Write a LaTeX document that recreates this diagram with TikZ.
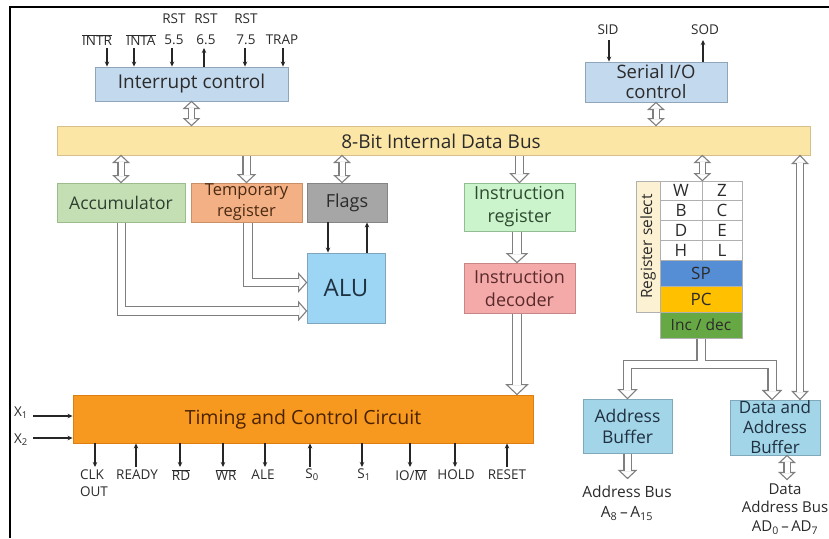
\documentclass[tikz,border=0pt]{standalone}
\usepackage{fontspec}
\setmainfont{Open Sans}
\usetikzlibrary{arrows.meta,calc}

\definecolor{bgray}{HTML}{7F7F7F}
\definecolor{txt}{HTML}{2B2B2B}
\definecolor{icfill}{HTML}{C3D9EE}
\definecolor{icdraw}{HTML}{8FA5BA}
\definecolor{busfill}{HTML}{FCE6A6}
\definecolor{busdraw}{HTML}{D6BF8A}
\definecolor{accfill}{HTML}{C5DFB5}
\definecolor{accdraw}{HTML}{9DBB8C}
\definecolor{acctext}{HTML}{2F4030}
\definecolor{tmpfill}{HTML}{F3B084}
\definecolor{tmpdraw}{HTML}{C98F66}
\definecolor{tmptext}{HTML}{4A2A12}
\definecolor{flagfill}{HTML}{A6A6A6}
\definecolor{flagdraw}{HTML}{858585}
\definecolor{alufill}{HTML}{9DD6F5}
\definecolor{aludraw}{HTML}{7FA6BC}
\definecolor{alutext}{HTML}{1F3242}
\definecolor{irfill}{HTML}{CCF4CC}
\definecolor{irdraw}{HTML}{92BD92}
\definecolor{irtext}{HTML}{2E4A30}
\definecolor{idfill}{HTML}{F5AAAA}
\definecolor{iddraw}{HTML}{C98686}
\definecolor{idtext}{HTML}{5A2A2A}
\definecolor{rsfill}{HTML}{FCF1D2}
\definecolor{celldraw}{HTML}{B0B0B0}
\definecolor{spfill}{HTML}{558ED5}
\definecolor{pcfill}{HTML}{FFC000}
\definecolor{incfill}{HTML}{66A844}
\definecolor{buffill}{HTML}{A2D5E8}
\definecolor{bufdraw}{HTML}{7FA9BA}
\definecolor{buftext}{HTML}{1F3040}
\definecolor{tccfill}{HTML}{F7981F}
\definecolor{tccdraw}{HTML}{DE7E10}
\definecolor{tcctext}{HTML}{4A2200}

% open (hollow) arrow head: tip point, direction, half width, length
\newcommand\openhead[4]{%
  \draw[headsty,shift={(#1)},rotate=#2] (0,0) -- (-#4,#3) -- (-#4,-#3) -- cycle;}
% two-headed hollow bus arrow between #1 (upper end) and #2 (lower end)
\newcommand\busboth[5]{%
  \openhead{#1}{90}{#4}{#5}\openhead{#2}{-90}{#4}{#5}%
  \pgfmathsetmacro\bshort{#5-0.8}%
  \draw[shaftsty=#3pt,shorten <=\bshort pt,shorten >=\bshort pt] (#1) -- (#2);}
% one-headed hollow bus arrow from #1 down to #2
\newcommand\busdown[5]{%
  \openhead{#2}{-90}{#4}{#5}%
  \pgfmathsetmacro\bshort{#5-0.8}%
  \draw[shaftsty=#3pt,shorten <=0.4pt,shorten >=\bshort pt] (#1) -- (#2);}

\begin{document}
\begin{tikzpicture}[x=1pt,y=-1pt,
  blk/.style={draw=#1,line width=0.9pt,inner sep=1pt,align=center,text=txt,
    font=\fontsize{18}{20}\selectfont},
  cell/.style={draw=celldraw,line width=0.7pt,fill=white,inner sep=0pt,text=txt,
    font=\fontsize{17}{18}\selectfont},
  sigl/.style={inner sep=0pt,align=center,text=txt,font=\fontsize{13.5}{21}\selectfont},
  busl/.style={inner sep=0pt,align=center,text=txt,font=\fontsize{15.5}{20}\selectfont},
  sig/.style={draw=black!85,line width=1.1pt,-{Stealth[length=5pt,width=4.5pt]}},
  headsty/.style={draw=bgray,fill=white,line width=1.1pt,line join=miter},
  shaftsty/.style={draw=bgray,line width=1.1pt,double=white,double distance=#1}]

\useasboundingbox (0,0) rectangle (829,538);
\fill[white] (0,0) rectangle (829,538);
% frame
\draw[line width=2.5pt] (10,538) -- (10,7) -- (829,7);

% ---------- blocks ----------
\node[blk=icdraw,fill=icfill,minimum width=193pt,minimum height=34pt,font=\fontsize{19}{20}\selectfont] (intc) at (191.5,84) {Interrupt control};
\node[blk=icdraw,fill=icfill,minimum width=142pt,minimum height=40pt,font=\fontsize{18.5}{20}\selectfont] (sio) at (656,82) {Serial I/O\\control};
\node[blk=busdraw,fill=busfill,minimum width=753pt,minimum height=29pt] (bus) at (433.5,140.5) {};
\node[inner sep=0pt,text=txt,font=\fontsize{19}{20}\selectfont] (buslbl) at (441,141) {8-Bit Internal Data Bus};

\node[blk=accdraw,fill=accfill,text=acctext,minimum width=128pt,minimum height=39pt,font=\fontsize{17.5}{20}\selectfont] (acc) at (121,202.5) {Accumulator};
\node[blk=tmpdraw,fill=tmpfill,text=tmptext,minimum width=111pt,minimum height=39pt,font=\fontsize{16.5}{21}\selectfont] (tmp) at (246.5,202.5) {Temporary\\register};
\node[blk=flagdraw,fill=flagfill,minimum width=80pt,minimum height=39pt] (flags) at (347,202.5) {Flags};
\node[blk=aludraw,fill=alufill,text=alutext,minimum width=78pt,minimum height=70pt,font=\fontsize{24}{26}\selectfont] (alu) at (346,288) {ALU};

\node[blk=irdraw,fill=irfill,text=irtext,minimum width=111pt,minimum height=48pt,font=\fontsize{18}{23}\selectfont] (ir) at (519.5,207) {Instruction\\register};
\node[blk=iddraw,fill=idfill,text=idtext,minimum width=111pt,minimum height=50pt,font=\fontsize{18}{23}\selectfont] (idec) at (519.5,288) {Instruction\\decoder};

% register array
\node[draw=celldraw,line width=0.7pt,fill=rsfill,inner sep=0pt,rotate=90,minimum width=131pt,minimum height=24pt,text=txt,font=\fontsize{15.5}{16}\selectfont] (rsel) at (648,246.5) {Register select};
\node[cell,minimum width=42pt,minimum height=19.75pt] (rW) at (681,190.9) {W};
\node[cell,minimum width=40pt,minimum height=19.75pt] (rZ) at (722,190.9) {Z};
\node[cell,minimum width=42pt,minimum height=19.75pt] (rB) at (681,210.6) {B};
\node[cell,minimum width=40pt,minimum height=19.75pt] (rC) at (722,210.6) {C};
\node[cell,minimum width=42pt,minimum height=19.75pt] (rD) at (681,230.4) {D};
\node[cell,minimum width=40pt,minimum height=19.75pt] (rE) at (722,230.4) {E};
\node[cell,minimum width=42pt,minimum height=19.75pt] (rH) at (681,250.1) {H};
\node[cell,minimum width=40pt,minimum height=19.75pt] (rL) at (722,250.1) {L};
\node[cell,fill=spfill,minimum width=82pt,minimum height=26pt] (sp) at (701,273) {SP};
\node[cell,fill=pcfill,minimum width=82pt,minimum height=26pt] (pc) at (701,299) {PC};
\node[cell,fill=incfill,minimum width=82pt,minimum height=26pt,font=\fontsize{15.5}{16}\selectfont] (inc) at (701,325) {Inc / dec};

\node[blk=bufdraw,fill=buffill,text=buftext,minimum width=89pt,minimum height=54pt,font=\fontsize{17.5}{21}\selectfont] (abuf) at (627.5,426) {Address\\Buffer};
\node[blk=bufdraw,fill=buffill,text=buftext,minimum width=90pt,minimum height=55pt,font=\fontsize{17}{20}\selectfont] (dabuf) at (775,427.5) {Data and\\Address\\Buffer};

\node[blk=tccdraw,fill=tccfill,text=tcctext,minimum width=460pt,minimum height=48pt,font=\fontsize{19.5}{20}\selectfont] (tcc) at (303,419) {Timing and Control Circuit};

% ---------- interrupt signals ----------
\node[sigl] (lintr) at (97,40) {$\overline{\hbox{INTR}}$};
\node[sigl] (linta) at (141,40) {$\overline{\hbox{INTA}}$};
\node[sigl] (lr55) at (174,29) {RST\\5.5};
\node[sigl] (lr65) at (206,29) {RST\\6.5};
\node[sigl] (lr75) at (246,29) {RST\\7.5};
\node[sigl] (ltrap) at (282,40) {TRAP};
\coordinate (aintr) at (107,48);
\coordinate (ainta) at (134,48);
\coordinate (a55) at (172,48);
\coordinate (a65) at (204,48);
\coordinate (a75) at (245,48);
\coordinate (atrap) at (283,48);
\draw[sig] (aintr) -- (aintr |- intc.north);
\draw[sig] (ainta) -- (ainta |- intc.north);
\draw[sig] (a55) -- (a55 |- intc.north);
\draw[sig] (a65 |- intc.north) -- (a65);
\draw[sig] (a75) -- (a75 |- intc.north);
\draw[sig] (atrap) -- (atrap |- intc.north);

% ---------- serial signals ----------
\node[sigl] (lsid) at (608,30) {SID};
\node[sigl] (lsod) at (705,30) {SOD};
\coordinate (asid) at (609,40);
\coordinate (asod) at (703,40);
\draw[sig] (asid) -- (asid |- sio.north);
\draw[sig] (asod |- sio.north) -- (asod);

% ---------- clock inputs ----------
\node[sigl] (lx1) at (21,413) {X\textsubscript{1}};
\node[sigl] (lx2) at (21,440) {X\textsubscript{2}};
\coordinate (ax1) at (33,416);
\coordinate (ax2) at (33,438);
\draw[sig] (ax1) -- (ax1 -| tcc.west);
\draw[sig] (ax2) -- (ax2 -| tcc.west);

% ---------- control signals ----------
\node[sigl,align=left,font=\fontsize{13.5}{17}\selectfont] (lclk) at (94,483.5) {CLK\\OUT};
\node[sigl] (lready) at (137,475) {READY};
\node[sigl] (lrd) at (181,475) {$\overline{\hbox{RD}}$};
\node[sigl] (lwr) at (226,475) {$\overline{\hbox{WR}}$};
\node[sigl] (lale) at (263,475) {ALE};
\node[sigl] (ls0) at (312,475) {S\textsubscript{0}};
\node[sigl] (ls1) at (364,475) {S\textsubscript{1}};
\node[sigl] (liom) at (411,475) {IO/$\overline{\hbox{M}}$};
\node[sigl] (lhold) at (456,475) {HOLD};
\node[sigl] (lreset) at (507,475) {RESET};
\coordinate (aclk) at (95,467);
\coordinate (aready) at (136,467);
\coordinate (ard) at (180,467);
\coordinate (awr) at (223,467);
\coordinate (aale) at (265,467);
\coordinate (as0) at (310,467);
\coordinate (as1) at (362,467);
\coordinate (aiom) at (410,467);
\coordinate (ahold) at (455,467);
\coordinate (areset) at (507,467);
\draw[sig] (aclk |- tcc.south) -- (aclk);
\draw[sig] (aready) -- (aready |- tcc.south);
\draw[sig] (ard |- tcc.south) -- (ard);
\draw[sig] (awr |- tcc.south) -- (awr);
\draw[sig] (aale |- tcc.south) -- (aale);
\draw[sig] (as0) -- (as0 |- tcc.south);
\draw[sig] (as1 |- tcc.south) -- (as1);
\draw[sig] (aiom |- tcc.south) -- (aiom);
\draw[sig] (ahold |- tcc.south) -- (ahold);
\draw[sig] (areset) -- (areset |- tcc.south);

% ---------- Flags <-> ALU ----------
\coordinate (fdn) at ($(flags.south)+(-19,0)$);
\coordinate (fup) at ($(flags.south)+(20,0)$);
\draw[sig] (fdn) -- (fdn |- alu.north);
\draw[sig] (fup |- alu.north) -- (fup);

% ---------- bus connections ----------
\busboth{intc.south}{intc.south |- bus.north}{5}{7.5}{7}
\busboth{sio.south}{sio.south |- bus.north}{5}{7.5}{7}
\busboth{acc.north |- bus.south}{acc.north}{5}{7.5}{7}
\busdown{tmp.north |- bus.south}{tmp.north}{6}{8.5}{8}
\coordinate (fbus) at ($(flags.north)+(-5,0)$);
\busboth{fbus |- bus.south}{fbus}{5}{7.5}{7}
\busdown{ir.north |- bus.south}{ir.north}{6.5}{9}{9}
\coordinate (gtop) at (rW.north east);
\busboth{gtop |- bus.south}{gtop}{5}{7.5}{7}
\coordinate (dtop) at ($(dabuf.north)+(25,0)$);
\busboth{dtop |- bus.south}{dtop}{5.5}{7.5}{8}

% ---------- instruction path ----------
\coordinate (irb) at ($(ir.south)+(-2.5,0)$);
\busdown{irb}{irb |- idec.north}{7.5}{10}{9}
\coordinate (idb) at ($(idec.south)+(-2.5,0)$);
\busdown{idb}{idb |- tcc.north}{8}{10.5}{10}

% ---------- accumulator / temporary register to ALU ----------
\coordinate (aluA) at ($(alu.west)+(0,23)$);
\coordinate (aluT) at ($(alu.west)+(0,-5.5)$);
\openhead{aluA}{0}{9}{8}
\draw[shaftsty=7.5pt,shorten <=0.4pt,shorten >=7.2pt] ($(acc.south)+(0.5,0)$) |- (aluA);
\openhead{aluT}{0}{9}{8}
\draw[shaftsty=7.5pt,shorten <=0.4pt,shorten >=7.2pt] ($(tmp.south)+(1.5,0)$) |- (aluT);

% ---------- register array to the buffers ----------
\coordinate (split) at ($(inc.south)+(0,26)$);
\coordinate (rtip) at ($(dabuf.north)+(-3,0)$);
\openhead{abuf.north}{-90}{9}{9}
\openhead{rtip}{-90}{9}{9}
\draw[bgray,line width=9.2pt,shorten <=0.4pt,shorten >=8.2pt] (inc.south) -- (split) -| (abuf.north);
\draw[bgray,line width=9.2pt,shorten <=0.4pt,shorten >=8.2pt] (inc.south) -- (split) -| (rtip);
\draw[white,line width=7pt,shorten <=0.6pt,shorten >=8.2pt] (inc.south) -- (split) -| (abuf.north);
\draw[white,line width=7pt,shorten <=0.6pt,shorten >=8.2pt] (inc.south) -- (split) -| (rtip);

% ---------- external buses ----------
\node[busl] (abus) at (627,503.5) {Address Bus\\A\textsubscript{8}\,--\,A\textsubscript{15}};
\node[busl,font=\fontsize{15}{18.5}\selectfont] (dbus) at (785,509) {Data\\Address Bus\\AD\textsubscript{0}\,--\,AD\textsubscript{7}};
\coordinate (abo) at ($(abuf.south)+(0,25)$);
\busdown{abuf.south}{abo}{6}{8.5}{8}
\coordinate (dbt) at ($(dabuf.south)+(12,0)$);
\coordinate (dbo) at ($(dbt)+(0,24)$);
\busboth{dbt}{dbo}{5}{7.5}{7}

\end{tikzpicture}
\end{document}
